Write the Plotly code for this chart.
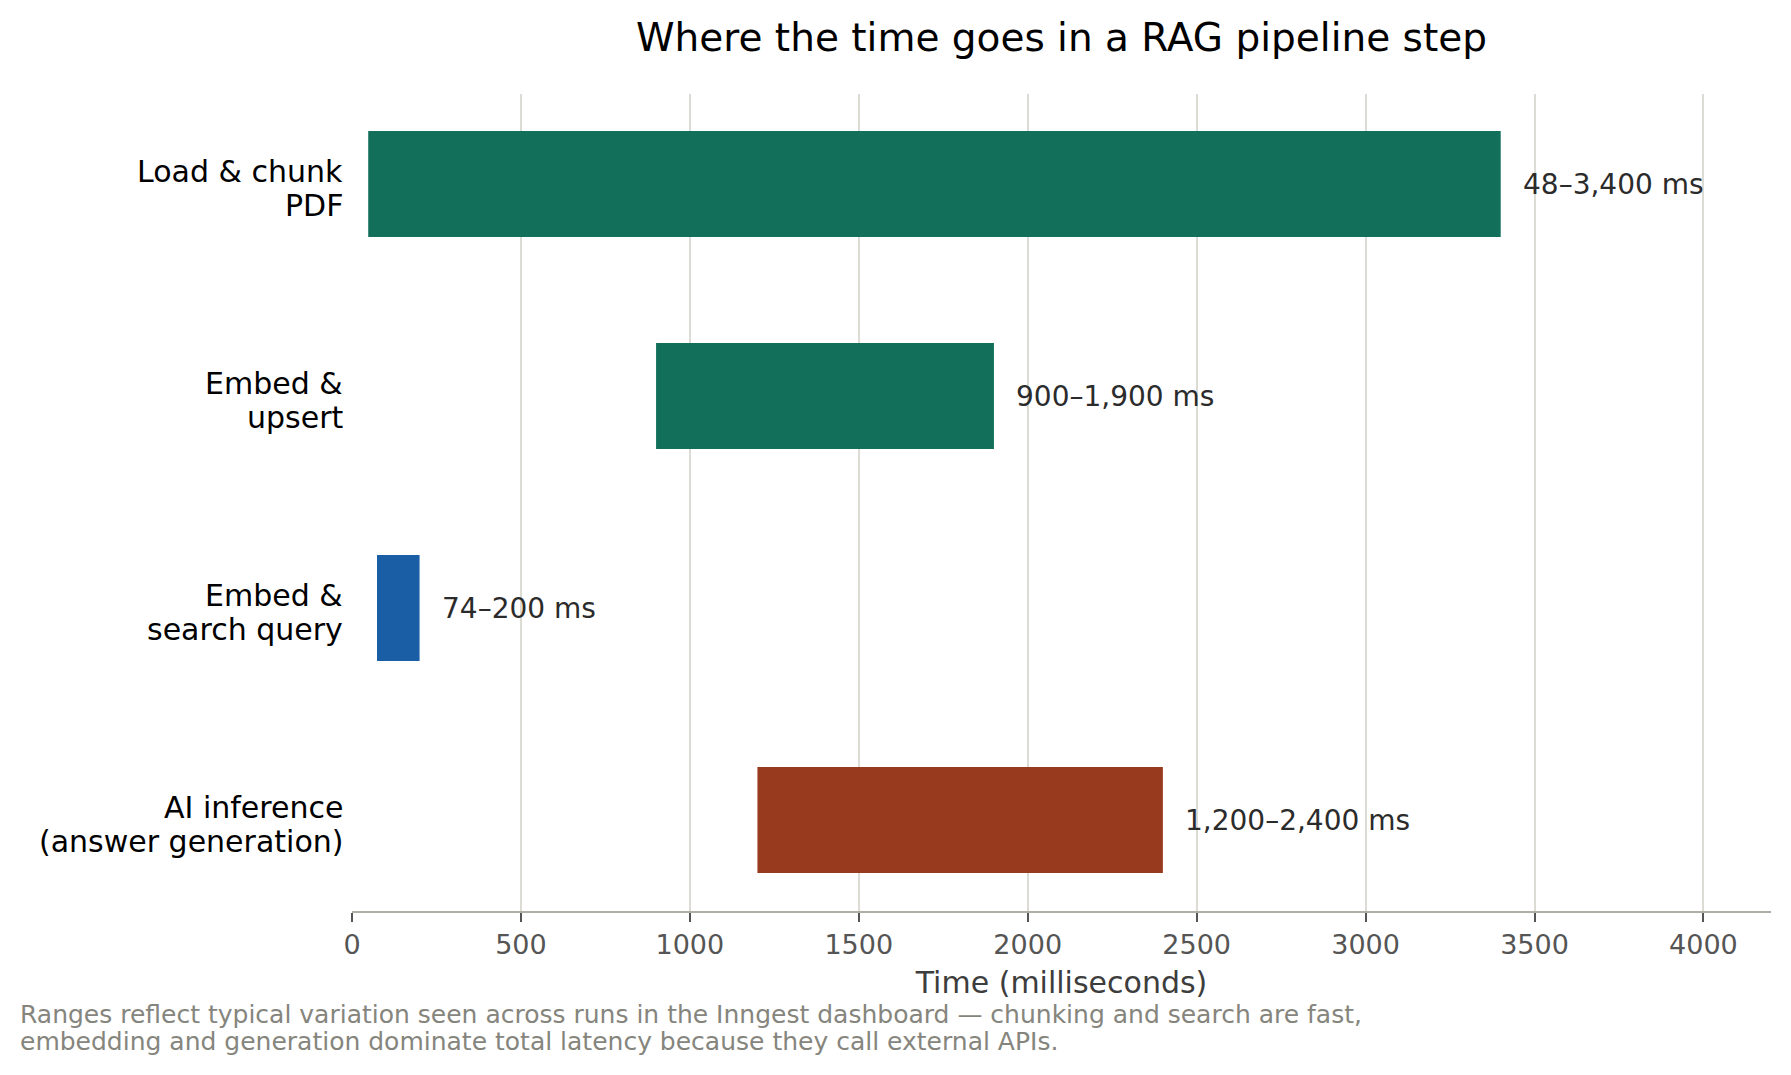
import plotly.graph_objects as go

# pipeline steps, top to bottom
steps = ['Load & chunk<br>PDF', 'Embed &<br>upsert', 'Embed &<br>search query', 'AI inference<br>(answer generation)']
start_ms = [48, 900, 74, 1200]
end_ms = [3400, 1900, 200, 2400]
range_labels = ['48–3,400 ms', '900–1,900 ms', '74–200 ms', '1,200–2,400 ms']
bar_colors = ['#116f5a', '#116f5a', '#1a5ea5', '#983a1d']

note_lines = [
  'Ranges reflect typical variation seen across runs in the Inngest dashboard — chunking and search are fast,',
  'embedding and generation dominate total latency because they call external APIs.',
]

FONT = 'DejaVu Sans'

fig = go.Figure()
fig.add_trace(go.Bar(
  y=steps,
  x=[e - s for s, e in zip(start_ms, end_ms)],
  base=start_ms,
  orientation='h',
  width=0.5,
  marker=dict(color=bar_colors, line=dict(width=0)),
  hoverinfo='skip',
))

# range labels just right of each bar
for step, end, lab in zip(steps, end_ms, range_labels):
  fig.add_annotation(x=end, y=step, text=lab, showarrow=False,
                     xanchor='left', yanchor='middle', xshift=20,
                     font=dict(family=FONT, size=28, color='#2b2b2b'))

# step names, one annotation per line (tighter line spacing than tick labels)
for step in steps:
  for line, shift in zip(step.split('<br>'), [13, -21.5]):
    fig.add_annotation(xref='paper', x=0, y=step, text=line, showarrow=False,
                       xanchor='right', yanchor='middle', xshift=-7, yshift=shift,
                       font=dict(family=FONT, size=30, color='black'))

# footnote
for i, line in enumerate(note_lines):
  fig.add_annotation(xref='paper', yref='paper', x=-0.2352, y=-0.127 - i * 0.033,
                     text=line, showarrow=False, xanchor='left', yanchor='middle',
                     font=dict(family=FONT, size=25, color='#85857d'))

fig.update_layout(
  width=1775, height=1059,
  margin=dict(l=344, r=12, t=86, b=156),
  plot_bgcolor='white', paper_bgcolor='white',
  showlegend=False,
  font=dict(family=FONT),
  title=dict(text='Where the time goes in a RAG pipeline step',
             x=0.5, xref='paper', xanchor='center',
             y=1 - 29 / 1059, yref='container', yanchor='middle',
             font=dict(family=FONT, size=39, color='black')),
  xaxis=dict(
    range=[0, 4200],
    tickvals=[0, 500, 1000, 1500, 2000, 2500, 3000, 3500, 4000],
    showgrid=True, gridcolor='#dcdcd4', gridwidth=2,
    zeroline=False,
    showline=True, linecolor='#b0ada5', linewidth=2,
    ticks='outside', ticklen=9, tickwidth=2, tickcolor='#555555',
    tickfont=dict(family=FONT, size=27, color='#555555'),
    title=dict(text='Time (milliseconds)', standoff=13,
               font=dict(family=FONT, size=30, color='#3d3d3d')),
  ),
  yaxis=dict(
    range=[3.429, -0.425],
    showgrid=False, zeroline=False, showline=False, ticks='',
    showticklabels=False,
  ),
)

fig.write_html('out.html')
